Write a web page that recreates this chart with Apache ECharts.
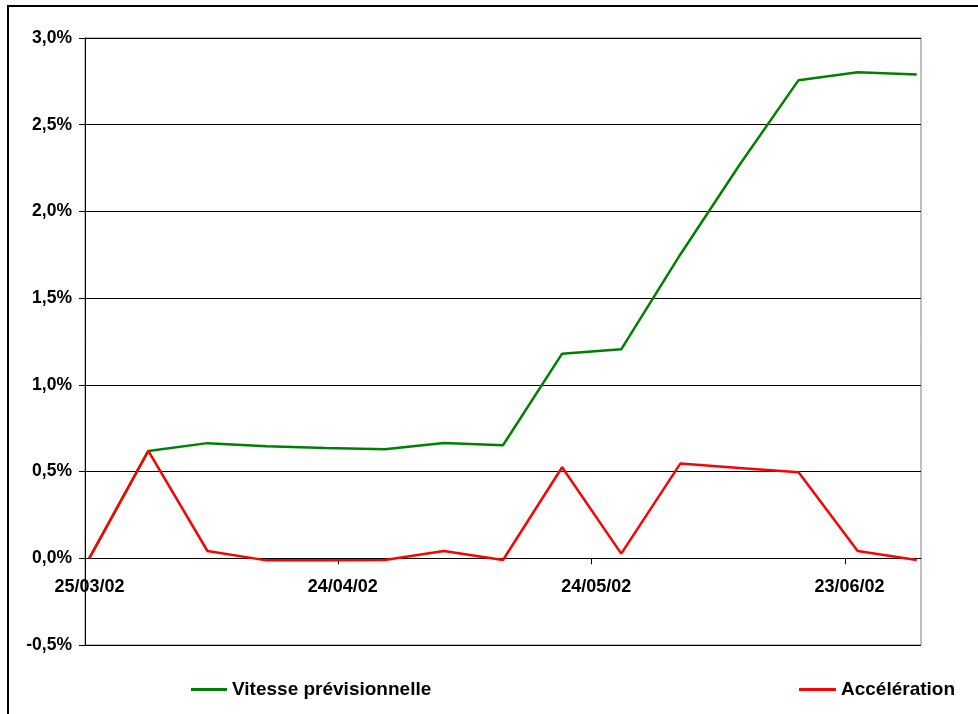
<!DOCTYPE html>
<html>
<head>
<meta charset="utf-8">
<script src="https://cdn.jsdelivr.net/npm/echarts@6/dist/echarts.min.js"></script>
<style>
html,body{margin:0;padding:0;background:#fff;}
#chart{width:978px;height:714px;}
</style>
</head>
<body>
<div id="chart"></div>
<script>
// Weekly observation dates (dd/mm/yy)
var dates = ['25/03/02','01/04/02','08/04/02','15/04/02','22/04/02','29/04/02','06/05/02','13/05/02','20/05/02','27/05/02','03/06/02','10/06/02','17/06/02','24/06/02','01/07/02'];
// Values in percent
var vitesse = [0, 0.619, 0.664, 0.646, 0.636, 0.629, 0.665, 0.652, 1.180, 1.205, 1.752, 2.268, 2.757, 2.803, 2.789];
var acceleration = [0, 0.619, 0.042, -0.012, -0.012, -0.010, 0.042, -0.010, 0.525, 0.027, 0.546, 0.521, 0.496, 0.042, -0.010];
var axisStartDate = '25/03/02';
var axisEndDate = '02/07/02';
var tickDays = [0, 30, 60, 90];
var yTicks = [-0.5, 0, 0.5, 1.0, 1.5, 2.0, 2.5, 3.0];

function parseD(s){var p=s.split('/');return Date.UTC(2000+ +p[2], +p[1]-1, +p[0]);}
var DAY = 86400000;
var t0 = parseD(axisStartDate);
function dayOff(s){return (parseD(s)-t0)/DAY;}
function fmtDay(v){
  var d=new Date(t0+Math.round(v)*DAY);
  function z(n){return (n<10?'0':'')+n;}
  return z(d.getUTCDate())+'/'+z(d.getUTCMonth()+1)+'/'+z(d.getUTCFullYear()%100);
}
// Excel plots each date in the middle of its day slot
function pts(vals){return dates.map(function(d,i){return [dayOff(d)+0.5, vals[i]];});}

var font = 'Liberation Sans, Arial, sans-serif';
var chart = echarts.init(document.getElementById('chart'), null, {renderer:'canvas'});
chart.setOption({
  animation:false,
  backgroundColor:'#fff',
  grid:{left:85, top:38, right:57, bottom:69, show:true, borderColor:'#808080', borderWidth:1, backgroundColor:'transparent'},
  xAxis:{
    type:'value', min:0, max:dayOff(axisEndDate),
    axisLine:{onZero:true, lineStyle:{color:'#000', width:1}},
    axisTick:{show:true, length:6, inside:false, customValues:tickDays, lineStyle:{color:'#000'}},
    axisLabel:{customValues:tickDays, formatter:function(v){return fmtDay(v);}, fontFamily:font, fontWeight:'bold', fontSize:18, color:'#000', margin:-67, padding:[0,0,0,9]},
    splitLine:{show:false}
  },
  yAxis:{
    type:'value', min:yTicks[0], max:yTicks[yTicks.length-1], interval:0.5,
    axisLine:{show:true, onZero:false, lineStyle:{color:'#000', width:1}},
    axisTick:{show:true, length:6, lineStyle:{color:'#000'}},
    axisLabel:{formatter:function(v){return v.toFixed(1).replace('.',',')+'%';}, fontFamily:font, fontWeight:'bold', fontSize:17.5, color:'#000', margin:13},
    splitLine:{show:true, lineStyle:{color:'#000', width:1}}
  },
  legend:[
    {data:['Vitesse prévisionnelle'], left:191, top:680, padding:0, icon:'rect', itemWidth:36, itemHeight:3, textStyle:{fontFamily:font, fontWeight:'bold', fontSize:19, color:'#000'}},
    {data:['Accélération'], left:799, top:680, padding:0, icon:'rect', itemWidth:37, itemHeight:3, textStyle:{fontFamily:font, fontWeight:'bold', fontSize:19, color:'#000'}}
  ],
  graphic:[{type:'rect', shape:{x:8, y:6, width:1000, height:800}, style:{fill:'none', stroke:'#000', lineWidth:2}, silent:true}],
  series:[
    {name:'Vitesse prévisionnelle', type:'line', data:pts(vitesse), showSymbol:false, symbol:'none', lineStyle:{color:'#008000', width:2.5}, itemStyle:{color:'#008000'}, z:2},
    {name:'Accélération', type:'line', data:pts(acceleration), showSymbol:false, symbol:'none', lineStyle:{color:'#ff0000', width:2.5}, itemStyle:{color:'#ff0000'}, z:3}
  ]
});
</script>
</body>
</html>
